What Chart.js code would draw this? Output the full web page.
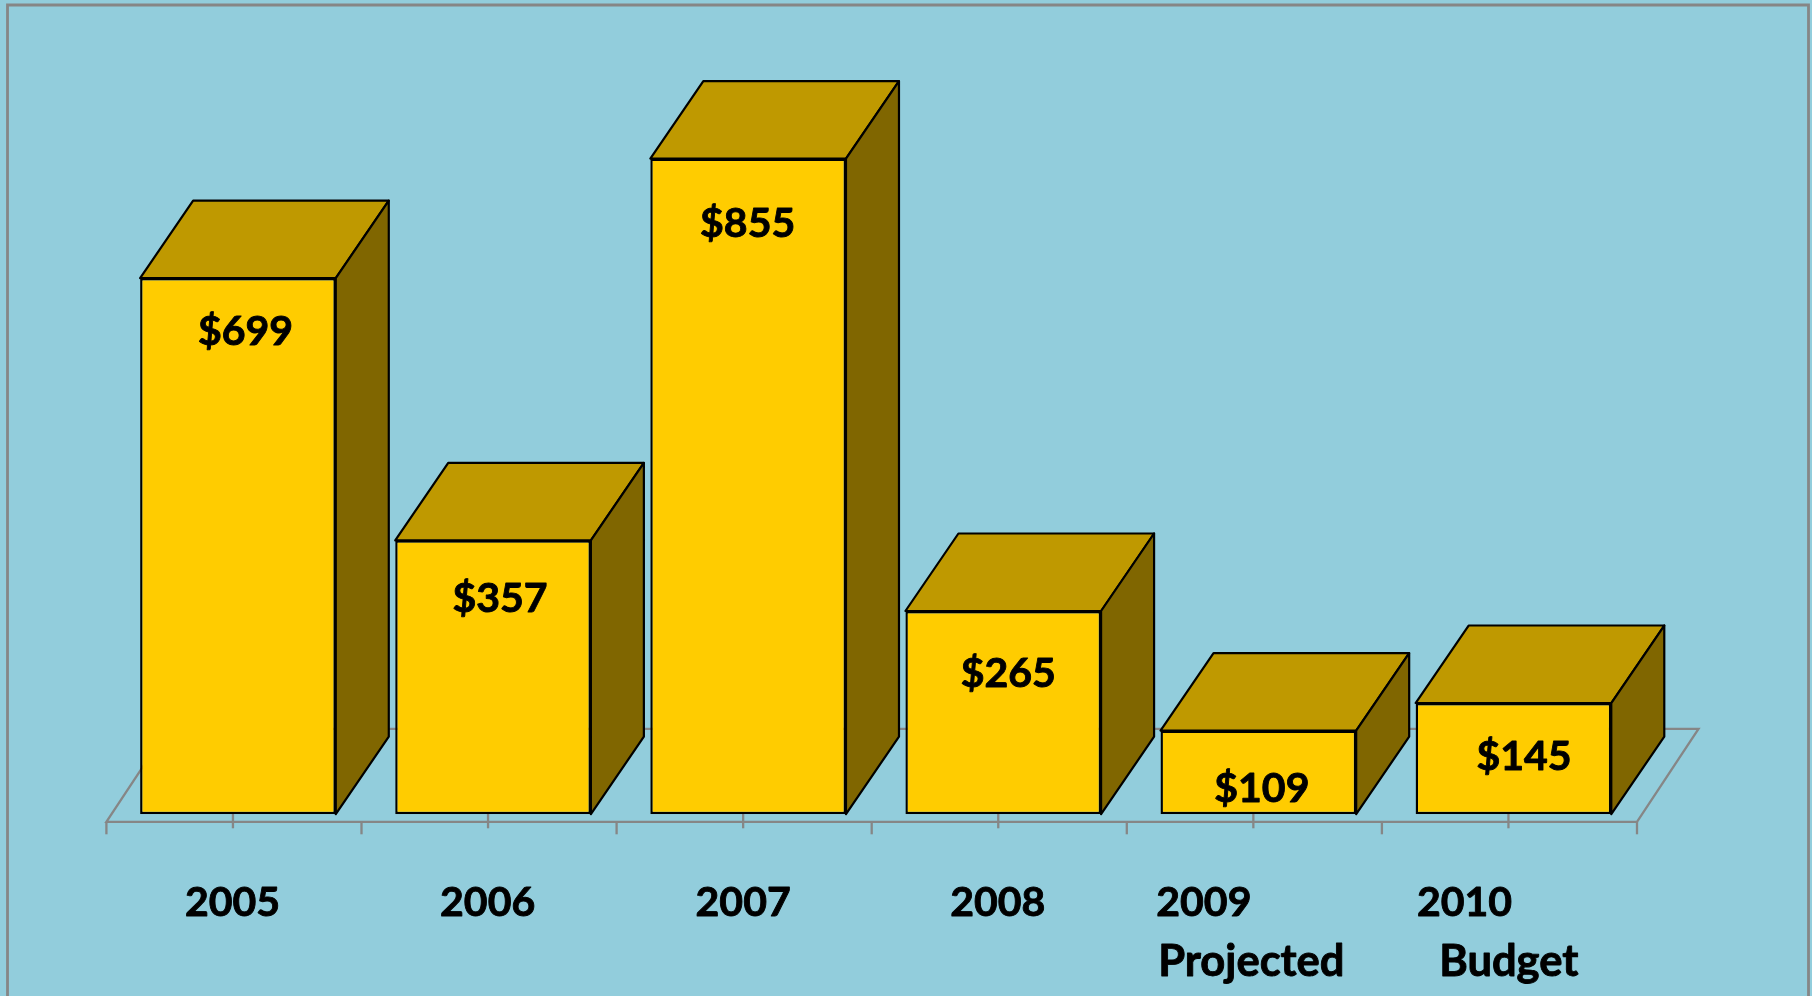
<!DOCTYPE html>
<html>
<head>
<meta charset="utf-8">
<style>
html,body{margin:0;padding:0;background:#92CDDC;overflow:hidden}
canvas{display:block}
</style>
<script src="https://cdn.jsdelivr.net/npm/chart.js@4"></script>
</head>
<body>
<canvas id="c" width="1812" height="996" style="width:1812px;height:996px"></canvas>
<script>
const categories = [["2005"],["2006"],["2007"],["2008"],["2009","Projected"],["2010","Budget"]];
const spending = [699,357,855,265,109,145];
const valueLabels = ["$699","$357","$855","$265","$109","$145"];

// Presentation offsets (px), not data
const valueDx = [7.5,7,-0.5,5,3.5,10.5];
const valueDrop = [66.5,71.5,78.5,76.5,71,66.5];
const lineDx = [[-5.5],[-5.4],[-5],[-5.5],[-54.5,-7],[-49,-4.7]];
const DEPTH_X = 53, DEPTH_Y = 77.5;
const FLOOR_DX = -4, FLOOR_DY = 7.6;
const FONT_DIGITS = 'bold 41px Lato';
const FONT_WORDS = 'bold 43.5px Lato';

function poly(ctx, pts, fill){
  ctx.beginPath();
  pts.forEach((p,i)=> i?ctx.lineTo(p[0],p[1]):ctx.moveTo(p[0],p[1]));
  ctx.closePath();
  ctx.fillStyle = fill; ctx.fill();
  ctx.strokeStyle = '#000'; ctx.lineWidth = 2.2; ctx.lineJoin='round'; ctx.stroke();
}
function boldText(ctx,t,x,y){
  ctx.lineWidth = 0.9; ctx.strokeStyle='#000'; ctx.lineJoin='round';
  ctx.strokeText(t,x,y); ctx.fillText(t,x,y);
}

const scene = {
  id:'scene',
  beforeDatasetsDraw(chart){
    const ctx = chart.ctx, x = chart.scales.x, y = chart.scales.y;
    ctx.save();
    // frame
    ctx.strokeStyle='#868686'; ctx.lineWidth=2.8;
    ctx.beginPath(); ctx.moveTo(7.5,1000); ctx.lineTo(7.5,5); ctx.lineTo(1808.5,5); ctx.lineTo(1808.5,1000); ctx.stroke();
    // floor
    const step = x.getPixelForTick(1)-x.getPixelForTick(0);
    const base = y.getPixelForValue(0)+FLOOR_DY;
    const L = x.getPixelForTick(0)+FLOOR_DX-step/2;
    const R = x.getPixelForTick(categories.length-1)+FLOOR_DX+step/2;
    ctx.strokeStyle='#868686'; ctx.lineWidth=2.3;
    ctx.beginPath();
    ctx.moveTo(L,base); ctx.lineTo(R,base); ctx.lineTo(R+61.5,base-93); ctx.lineTo(L+61.5,base-93); ctx.closePath(); ctx.stroke();
    categories.forEach((_,i)=>{
      const c = x.getPixelForTick(i)+FLOOR_DX-1;
      ctx.beginPath(); ctx.moveTo(c,base-8); ctx.lineTo(c,base+6.5); ctx.stroke();
      ctx.beginPath(); ctx.moveTo(c+1-step/2,base); ctx.lineTo(c+1-step/2,base+12.5); ctx.stroke();
    });
    ctx.beginPath(); ctx.moveTo(R,base); ctx.lineTo(R,base+12.5); ctx.stroke();
    // 3D faces of each bar
    chart.getDatasetMeta(0).data.forEach(b=>{
      const w=b.width/2, xl=b.x-w, xr=b.x+w, t=b.y, bt=b.base;
      poly(ctx,[[xl,t],[xl+DEPTH_X,t-DEPTH_Y],[xr+DEPTH_X,t-DEPTH_Y],[xr,t]],'#BF9900');
      poly(ctx,[[xr,t],[xr+DEPTH_X,t-DEPTH_Y],[xr+DEPTH_X,bt-DEPTH_Y],[xr,bt]],'#806600');
    });
    ctx.restore();
  },
  afterDatasetsDraw(chart){
    const ctx = chart.ctx, x = chart.scales.x;
    ctx.save();
    ctx.font = FONT_DIGITS; ctx.fillStyle='#000'; ctx.textAlign='center'; ctx.textBaseline='alphabetic';
    chart.getDatasetMeta(0).data.forEach((b,i)=>{
      boldText(ctx,valueLabels[i], b.x+valueDx[i], b.y+valueDrop[i]);
    });
    categories.forEach((lines,i)=>{
      lines.forEach((t,j)=>{
        ctx.font = j ? FONT_WORDS : FONT_DIGITS;
        boldText(ctx,t, x.getPixelForTick(i)+lineDx[i][j], 915.5+j*60.5);
      });
    });
    ctx.restore();
  }
};

new Chart(document.getElementById('c'),{
  type:'bar',
  data:{labels:categories,datasets:[{
    data:spending,
    backgroundColor:'#FFCC00',
    borderColor:'#000',
    borderWidth:2.4,
    borderSkipped:false,
    categoryPercentage:1,
    barPercentage:0.767
  }]},
  options:{
    responsive:false,
    devicePixelRatio:1,
    animation:false,
    layout:{padding:{left:110.4,right:171,top:47.4,bottom:181.8}},
    plugins:{legend:{display:false},tooltip:{enabled:false},title:{display:false}},
    scales:{
      x:{display:false},
      y:{display:false,min:0,max:1000}
    }
  },
  plugins:[scene]
});
</script>
</body>
</html>
